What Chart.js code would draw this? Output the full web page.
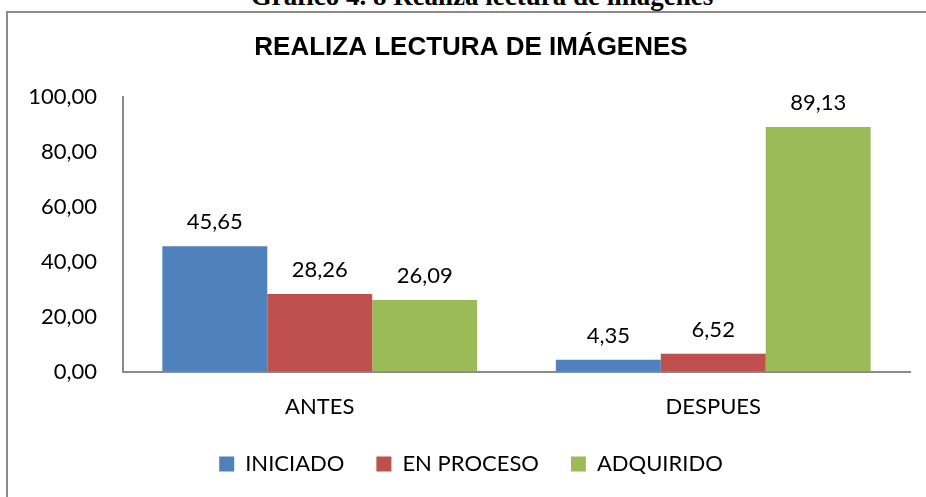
<!DOCTYPE html>
<html>
<head>
<meta charset="utf-8">
<script src="https://cdn.jsdelivr.net/npm/chart.js@4"></script>
<style>
  body { margin:0; background:#fff; width:926px; height:497px; overflow:hidden; position:relative; }
  #caption { position:absolute; left:0; width:964px; top:-19px; text-align:center; font-family:"Liberation Serif", serif; font-weight:bold; font-size:27px; color:#000; white-space:nowrap; }
  #frame { position:absolute; left:6px; top:11px; width:940px; height:500px; border:2px solid #8a8a8a; }
  #wrap { position:absolute; left:8px; top:13px; width:926px; height:484px; }
</style>
</head>
<body>
<div id="caption">Gráfico 4. 8 Realiza lectura de imágenes</div>
<div id="frame"></div>
<div id="wrap"><canvas id="chart" width="926" height="484"></canvas></div>
<script>
var categories = ['ANTES', 'DESPUES'];
var iniciado = [45.65, 4.35];
var enProceso = [28.26, 6.52];
var adquirido = [26.09, 89.13];
var yTicks = [0, 20, 40, 60, 80, 100];

function fmt(v) {
  return Number(v).toFixed(2).replace('.', ',');
}

// etiquetas de valor encima de cada barra
var barLabels = {
  id: 'barLabels',
  afterDatasetsDraw: function(chart) {
    var ctx = chart.ctx;
    ctx.save();
    ctx.font = '22px Lato';
    ctx.fillStyle = '#000';
    ctx.textAlign = 'center';
    ctx.textBaseline = 'alphabetic';
    chart.data.datasets.forEach(function(ds, i) {
      var meta = chart.getDatasetMeta(i);
      meta.data.forEach(function(bar, j) {
        ctx.fillText(fmt(ds.data[j]), bar.x, bar.y - 17);
      });
    });
    ctx.restore();
  }
};

new Chart(document.getElementById('chart'), {
  type: 'bar',
  data: {
    labels: categories,
    datasets: [
      { label: 'INICIADO', data: iniciado, backgroundColor: '#4F81BD' },
      { label: 'EN PROCESO', data: enProceso, backgroundColor: '#C0504D' },
      { label: 'ADQUIRIDO', data: adquirido, backgroundColor: '#9BBB59' }
    ]
  },
  options: {
    responsive: false,
    animation: false,
    barPercentage: 1,
    categoryPercentage: 0.8,
    layout: { padding: { left: 0, right: 0, top: 0, bottom: 12 } },
    plugins: {
      title: {
        display: true,
        text: 'REALIZA LECTURA DE IMÁGENES',
        color: '#000',
        font: { family: 'Liberation Sans', size: 26, weight: 'bold' },
        padding: { top: 19, bottom: 34 }
      },
      legend: {
        position: 'bottom',
        labels: {
          boxWidth: 15,
          boxHeight: 15,
          color: '#000',
          padding: 32,
          font: { family: 'Lato', size: 22 }
        }
      },
      tooltip: { enabled: false }
    },
    scales: {
      x: {
        grid: { display: false, drawTicks: false },
        border: { display: true, color: '#8a8a8a', width: 2 },
        ticks: { color: '#000', padding: 22, font: { family: 'Lato', size: 22 } },
        afterFit: function(scale) { scale.height = scale.height - 21; }
      },
      y: {
        min: 0,
        max: 100,
        afterBuildTicks: function(scale) {
          scale.ticks = yTicks.map(function(v) { return { value: v }; });
        },
        afterFit: function(scale) { scale.width = 115; },
        grid: { display: false, drawTicks: false },
        border: { display: true, color: '#8a8a8a', width: 2 },
        ticks: {
          color: '#000',
          padding: 26,
          font: { family: 'Lato', size: 22 },
          callback: function(v) { return fmt(v); }
        }
      },
      // espacio vacio a la derecha del area de trazado
      margen: {
        position: 'right',
        display: true,
        grid: { display: false, drawTicks: false },
        border: { display: false },
        ticks: { display: false },
        afterFit: function(scale) { scale.width = 24; }
      }
    }
  },
  plugins: [barLabels]
});
</script>
</body>
</html>
